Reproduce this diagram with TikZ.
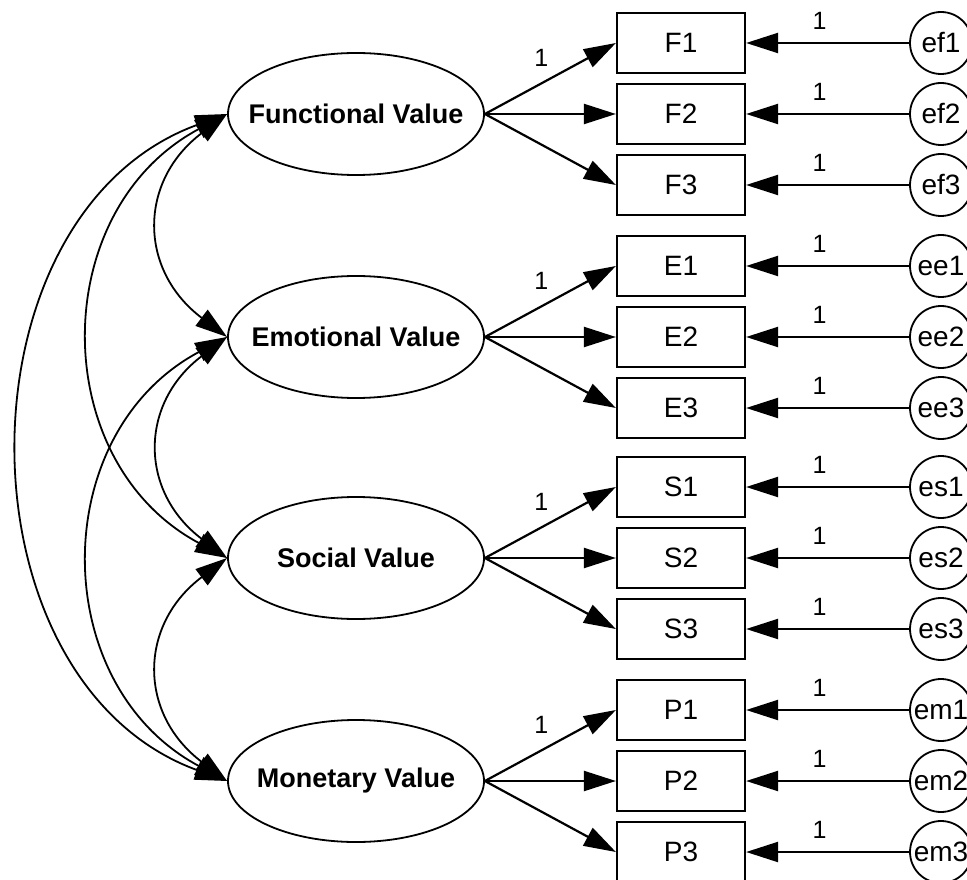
\documentclass[tikz,border=0pt]{standalone}
\usepackage{fontspec}
\setmainfont{Liberation Sans}
\usetikzlibrary{arrows.meta,positioning,shapes.geometric}
\tikzset{
  semarr/.style={-{Triangle[length=16pt, width=10pt]}, line width=1.1pt},
  covarr/.style={{Triangle[length=16pt, width=10pt]}-{Triangle[length=16pt, width=10pt]}, line width=0.9pt},
  latent/.style={draw, ellipse, line width=0.9pt, minimum width=128pt, minimum height=61pt, inner sep=0pt, font=\fontsize{13.5}{16}\selectfont\bfseries},
  observed/.style={draw, rectangle, line width=1.1pt, minimum width=64pt, minimum height=30pt, inner sep=0pt, font=\fontsize{14}{16}\selectfont},
  errnode/.style={draw, circle, line width=0.9pt, minimum size=31pt, inner sep=0pt, font=\fontsize{14}{16}\selectfont},
  wlabel/.style={font=\fontsize{12.5}{14}\selectfont, inner sep=0pt},
}
\newcommand{\lvtext}[1]{\makebox[0pt]{#1}}

\begin{document}
\begin{tikzpicture}[x=0.5pt, y=0.5pt]
  \useasboundingbox (0,0) rectangle (967,879);
  % latent variables
  \node[latent] (FV) at (356,765) {\lvtext{Functional Value}};
  \node[latent] (EV) at (356,542) {\lvtext{Emotional Value}};
  \node[latent] (SV) at (356,321) {\lvtext{Social Value}};
  \node[latent] (MV) at (356,98) {\lvtext{Monetary Value}};
  % indicators, error terms and loadings
  \foreach \lv/\ind/\err/\y in {FV/F/ef/765, EV/E/ee/542, SV/S/es/321, MV/P/em/98}{
    \foreach \k in {1,2,3}{
      \node[observed] (\ind\k) at (681,{\y+71*(2-\k)}) {\ind\k};
      \node[errnode] (\err\k) at (941,{\y+71*(2-\k)}) {\err\k};
      \draw[semarr] (\err\k) -- node[wlabel, pos=0.55, above=6pt] {1} (\ind\k);
    }
    \draw[semarr] (\lv.east) -- node[wlabel, pos=0.43, above=8pt] {1} (\ind1.west);
    \draw[semarr] (\lv.east) -- (\ind2.west);
    \draw[semarr] (\lv.east) -- (\ind3.west);
  }
  % covariances
  \draw[covarr] (FV.west) to[out=217, in=143, looseness=1.28] (EV.west);
  \draw[covarr] (EV.west) to[out=217, in=143, looseness=1.28] (SV.west);
  \draw[covarr] (SV.west) to[out=217, in=143, looseness=1.28] (MV.west);
  \draw[covarr] (FV.west) to[out=208, in=152, looseness=1.18] (SV.west);
  \draw[covarr] (EV.west) to[out=208, in=152, looseness=1.18] (MV.west);
  \draw[covarr] (FV.west) to[out=200, in=160, looseness=1.12] (MV.west);
\end{tikzpicture}
\end{document}
